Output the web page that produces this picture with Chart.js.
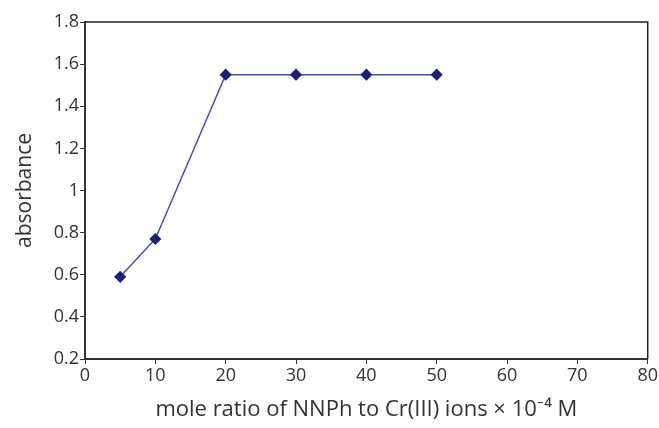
<!DOCTYPE html>
<html lang="en">
<head>
    <meta charset="UTF-8">
    <title>Absorbance vs mole ratio</title>
    <script src="https://cdn.jsdelivr.net/npm/chart.js"></script>
    <style>
        body { margin: 0; background: #fff; }
        canvas { display: block; }
    </style>
</head>
<body>
    <canvas id="ratioChart" width="659" height="428"></canvas>

    <script>
        // mole ratio (x 10^-4 M) vs absorbance
        const moleRatio = [5, 10, 20, 30, 40, 50];
        const absorbance = [0.59, 0.77, 1.55, 1.55, 1.55, 1.55];
        const xTicks = [0, 10, 20, 30, 40, 50, 60, 70, 80];
        const yTicks = [0.2, 0.4, 0.6, 0.8, 1.0, 1.2, 1.4, 1.6, 1.8];

        const textColor = '#333';
        const fontFamily = '"Open Sans", Lato, sans-serif';

        // closes the box on top and right
        const frame = {
            id: 'frame',
            afterDraw(chart) {
                const { ctx, chartArea: a } = chart;
                ctx.save();
                ctx.strokeStyle = '#222';
                ctx.lineWidth = 1.5;
                ctx.beginPath();
                ctx.moveTo(a.left, a.top);
                ctx.lineTo(a.right, a.top);
                ctx.lineTo(a.right, a.bottom);
                ctx.stroke();
                ctx.restore();
            }
        };

        new Chart(document.getElementById('ratioChart'), {
            type: 'line',
            data: {
                datasets: [{
                    data: moleRatio.map((x, i) => ({ x: x, y: absorbance[i] })),
                    borderColor: '#4a4aa8',
                    borderWidth: 1.5,
                    pointStyle: 'rectRot',
                    pointRadius: 5,
                    pointBackgroundColor: '#1e1e78',
                    pointBorderColor: '#1e1e78',
                    tension: 0
                }]
            },
            options: {
                responsive: false,
                animation: false,
                layout: { padding: { top: 22, right: 7, left: 0, bottom: 0 } },
                plugins: { legend: { display: false }, tooltip: { enabled: false } },
                scales: {
                    x: {
                        type: 'linear',
                        min: 0,
                        max: 80,
                        afterBuildTicks: s => { s.ticks = xTicks.map(v => ({ value: v })); },
                        afterFit: s => { s.height = 69; },
                        grid: { drawOnChartArea: false, tickLength: 5, color: textColor },
                        border: { color: textColor, width: 2 },
                        ticks: {
                            color: textColor,
                            padding: 1,
                            maxRotation: 0,
                            font: { family: fontFamily, size: 18 }
                        },
                        title: {
                            display: true,
                            text: 'mole ratio of NNPh to Cr(III) ions \u00d7 10\u207b\u2074 M',
                            color: textColor,
                            font: { family: fontFamily, size: 22 },
                            padding: { top: 0, bottom: 5 }
                        }
                    },
                    y: {
                        min: 0.2,
                        max: 1.8,
                        afterBuildTicks: s => { s.ticks = yTicks.map(v => ({ value: v })); },
                        afterFit: s => { s.width = 85; },
                        grid: { drawOnChartArea: false, tickLength: 5, color: textColor },
                        border: { color: textColor, width: 2 },
                        ticks: {
                            color: textColor,
                            padding: 1,
                            font: { family: fontFamily, size: 18 },
                            callback: v => Math.abs(v - 1) < 1e-9 ? '1' : v.toFixed(1)
                        },
                        title: {
                            display: true,
                            text: 'absorbance',
                            color: textColor,
                            font: { family: fontFamily, size: 21 },
                            padding: { top: 12, bottom: 0 }
                        }
                    }
                }
            },
            plugins: [frame]
        });
    </script>
</body>
</html>
